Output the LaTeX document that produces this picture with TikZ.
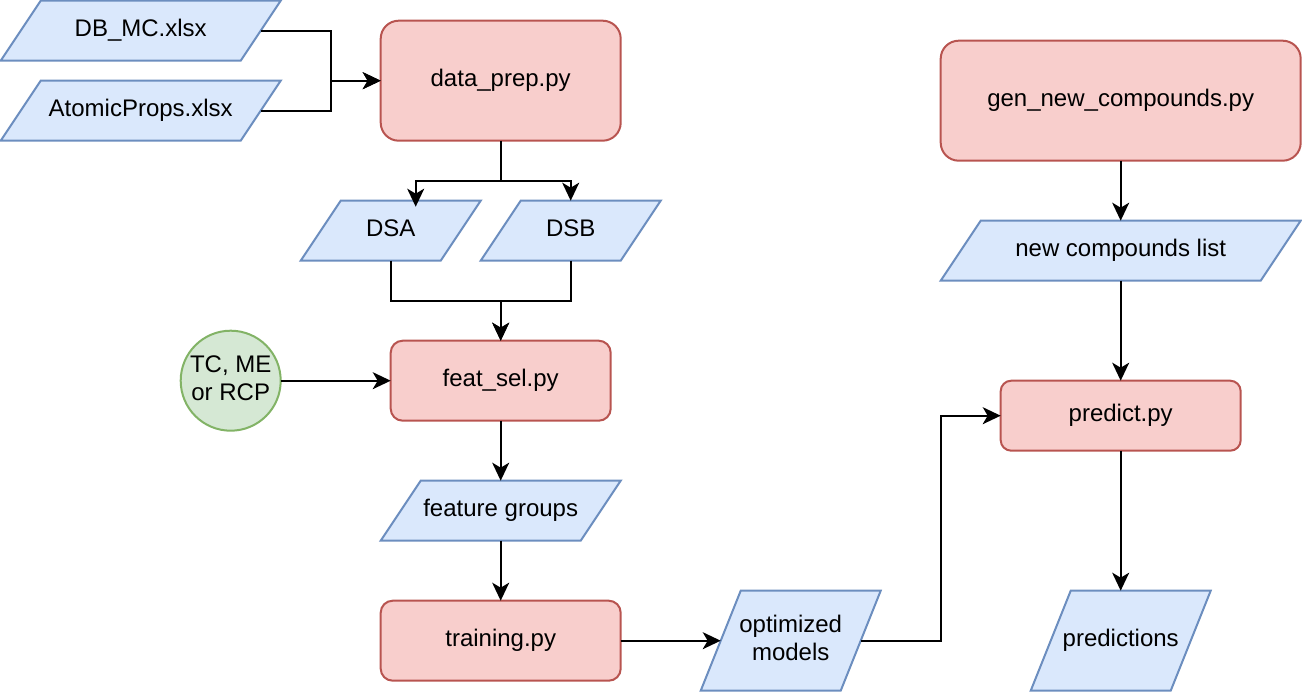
\documentclass[tikz,border=0pt]{standalone}
\usepackage{fontspec}
\setmainfont{Liberation Sans}
\usetikzlibrary{arrows.meta,calc}
\definecolor{bluefill}{HTML}{DAE8FC}
\definecolor{bluestroke}{HTML}{6C8EBF}
\definecolor{redfill}{HTML}{F8CECC}
\definecolor{redstroke}{HTML}{B85450}
\definecolor{greenfill}{HTML}{D5E8D4}
\definecolor{greenstroke}{HTML}{82B366}
\newcommand\hstrut{\rule{0pt}{17.5pt}}
\newcommand\dstrut{\rule[-6.5pt]{0pt}{6.5pt}}
% parallelogram: name, cx, cy, w, h, text
\newcommand\paranode[6]{%
  \path[parashape] ({#2-#4/2+40},{#3-#5/2}) -- ({#2+#4/2},{#3-#5/2})
    -- ({#2+#4/2-40},{#3+#5/2}) -- ({#2-#4/2},{#3+#5/2}) -- cycle;
  \node[paratext, minimum width={#4pt-40pt}, minimum height={#5pt}] (#1) at (#2,#3) {#6};
}
\begin{document}
\begin{tikzpicture}[x=1pt,y=-1pt,
  every node/.style={font=\fontsize{24}{28}\selectfont, inner sep=0pt, outer sep=0pt},
  single/.style={text height=17.5pt, text depth=6.5pt},
  parashape/.style={fill=bluefill, draw=bluestroke, line width=2pt, line join=miter},
  paratext/.style={rectangle, align=center},
  procbox/.style={rectangle, fill=redfill, draw=redstroke, line width=2pt, single},
  roundin/.style={circle, fill=greenfill, draw=greenstroke, line width=2pt, minimum size=100pt, align=center},
  conn/.style={line width=2pt, -{Stealth[length=18pt, width=17pt, inset=5pt]}},
  plain/.style={line width=2pt}
]
\useasboundingbox (-0.7,-0.7) rectangle (1301.3,691.3);

% inputs
\paranode{dbmc}{140}{30}{280}{60}{\hstrut DB\_MC.xlsx\dstrut}
\paranode{atomic}{140}{110}{280}{60}{\hstrut AtomicProps.xlsx\dstrut}

\node[procbox, minimum width=240pt, minimum height=120pt, rounded corners=18pt] (dataprep) at (500,80) {data\_prep.py};

\paranode{dsa}{390}{230}{180}{60}{\hstrut DSA\dstrut}
\paranode{dsb}{570}{230}{180}{60}{\hstrut DSB\dstrut}

\node[roundin] (tc) at (230,380) {\hstrut TC, ME\\or RCP\dstrut};
\node[procbox, minimum width=220pt, minimum height=80pt, rounded corners=12pt] (featsel) at (500,380) {feat\_sel.py};

\paranode{fg}{500}{510}{240}{60}{\hstrut feature groups\dstrut}
\node[procbox, minimum width=240pt, minimum height=80pt, rounded corners=12pt] (training) at (500,640) {training.py};
\paranode{opt}{790}{640}{180}{100}{\hstrut optimized\\models\dstrut}

\node[procbox, minimum width=360pt, minimum height=120pt, rounded corners=18pt] (gen) at (1120,100) {gen\_new\_compounds.py};
\paranode{ncl}{1120}{250}{360}{60}{\hstrut new compounds list\dstrut}
\node[procbox, minimum width=240pt, minimum height=70pt, rounded corners=10.5pt] (predict) at (1120,415) {predict.py};
\paranode{pred}{1120}{640}{180}{100}{\hstrut predictions\dstrut}

% junction coordinates
\coordinate (j1) at (330,80);
\coordinate (b1) at (500,180);
\coordinate (dsain) at (415,206);
\coordinate (m1) at (500,300);
\coordinate (k1) at (940,640);

% connectors
\draw[conn] (dbmc.east) -| (j1) -- (dataprep.west);
\draw[conn] (atomic.east) -| (j1) -- (dataprep.west);
\draw[conn] (dataprep.south) -- (b1) -| (dsain);
\draw[conn] (b1) -| (dsb.north);
\draw[conn] (dsa.south) |- (m1) -- (featsel.north);
\draw[conn] (dsb.south) |- (m1) -- (featsel.north);
\draw[conn] (tc.east) -- (featsel.west);
\draw[conn] (featsel.south) -- (fg.north);
\draw[conn] (fg.south) -- (training.north);
\draw[conn] (training.east) -- (opt.west);
\draw[conn] (opt.east) -- (k1) |- (predict.west);
\draw[conn] (gen.south) -- (ncl.north);
\draw[conn] (ncl.south) -- (predict.north);
\draw[conn] (predict.south) -- (pred.north);
\end{tikzpicture}
\end{document}
